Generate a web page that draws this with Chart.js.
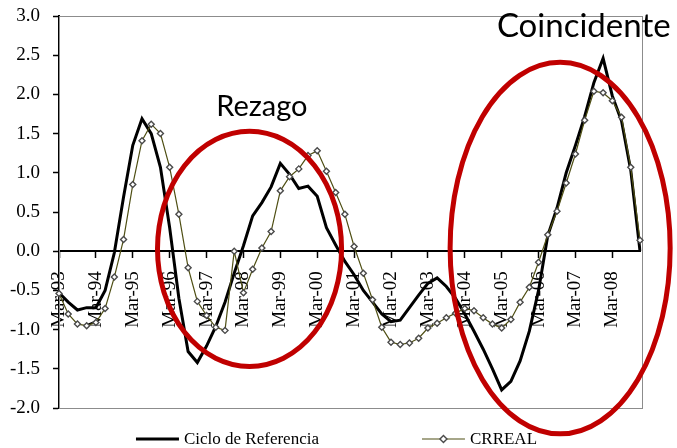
<!DOCTYPE html>
<html>
<head>
<meta charset="utf-8">
<script src="https://cdn.jsdelivr.net/npm/chart.js@4/dist/chart.umd.min.js"></script>
<style>
  html, body { margin: 0; padding: 0; background: #fff; }
  #wrap { width: 677px; height: 448px; }
</style>
</head>
<body>
<div id="wrap"><canvas id="cicloChart" width="677" height="448"></canvas></div>
<script>
// quarterly data, Mar-93 .. Dec-08
const years = ['93', '94', '95', '96', '97', '98', '99', '00', '01', '02', '03', '04', '05', '06', '07', '08'];
const months = ['Mar', 'Jun', 'Sep', 'Dec'];

const cicloReferencia = [
  -0.53, -0.65, -0.75, -0.72, -0.72, -0.50, -0.02, 0.69,
  1.35, 1.69, 1.50, 1.07, 0.30, -0.60, -1.28, -1.42,
  -1.21, -0.96, -0.65, -0.28, 0.07, 0.45, 0.62, 0.82,
  1.12, 0.98, 0.80, 0.83, 0.70, 0.30, 0.08, -0.13,
  -0.30, -0.50, -0.65, -0.80, -0.90, -0.88, -0.72, -0.56,
  -0.41, -0.34, -0.45, -0.60, -0.80, -1.02, -1.25, -1.50,
  -1.77, -1.66, -1.40, -1.02, -0.50, 0.20, 0.55, 1.00,
  1.35, 1.72, 2.15, 2.46, 1.98, 1.66, 1.03, 0.00
];

const crreal = [
  -0.54, -0.80, -0.93, -0.95, -0.91, -0.73, -0.33, 0.15,
  0.85, 1.41, 1.62, 1.50, 1.07, 0.47, -0.21, -0.64,
  -0.82, -0.97, -1.01, 0.00, -0.53, -0.23, 0.04, 0.25,
  0.77, 0.95, 1.05, 1.22, 1.28, 1.02, 0.75, 0.47,
  0.06, -0.28, -0.62, -0.97, -1.16, -1.19, -1.17, -1.11,
  -0.98, -0.92, -0.85, -0.79, -0.73, -0.76, -0.85, -0.93,
  -0.98, -0.87, -0.65, -0.46, -0.14, 0.21, 0.51, 0.87,
  1.24, 1.67, 2.04, 2.02, 1.92, 1.71, 1.07, 0.14
];

const labels = [];
years.forEach(y => months.forEach(m => labels.push(m + '-' + y)));

// red circles and their captions, in (category index, value) units
const ellipses = [
  { cx: 20.66, cy: 0.03, rx: 9.98, ry: 1.50 },
  { cx: 54.34, cy: 0.04, rx: 11.93, ry: 2.37 }
];
const notes = [
  { text: 'Rezago', x: 22.0, y: 1.72, size: 29 },
  { text: 'Coincidente', x: 56.9, y: 2.73, size: 33 }
];

const serif = '"Liberation Serif", "Times New Roman", serif';

const framePlugin = {
  id: 'frame',
  beforeDatasetsDraw(chart) {
    const a = chart.chartArea;
    const ctx = chart.ctx;
    ctx.save();
    ctx.strokeStyle = '#8c8c8c';
    ctx.lineWidth = 1;
    ctx.strokeRect(a.left + 0.5, a.top + 0.5, a.right - a.left + 2, a.bottom - a.top);
    ctx.restore();
  }
};

const notesPlugin = {
  id: 'notes',
  afterDraw(chart) {
    const ctx = chart.ctx;
    const xs = chart.scales.x, ys = chart.scales.y;
    ctx.save();
    ctx.strokeStyle = '#c00000';
    ctx.lineWidth = 5;
    ellipses.forEach(e => {
      const cx = xs.getPixelForValue(e.cx);
      const cy = ys.getPixelForValue(e.cy);
      const rx = xs.getPixelForValue(e.cx + e.rx) - cx;
      const ry = cy - ys.getPixelForValue(e.cy + e.ry);
      ctx.beginPath();
      ctx.ellipse(cx, cy, rx, ry, 0, 0, Math.PI * 2);
      ctx.stroke();
    });
    ctx.fillStyle = '#000';
    ctx.textAlign = 'center';
    ctx.textBaseline = 'alphabetic';
    notes.forEach(n => {
      ctx.font = n.size + 'px Lato, "Open Sans", sans-serif';
      ctx.fillText(n.text, xs.getPixelForValue(n.x), ys.getPixelForValue(n.y));
    });
    ctx.restore();
  }
};

// legend drawn by hand: line + marker like the office chart
const legendPlugin = {
  id: 'bottomLegend',
  afterDraw(chart) {
    const ctx = chart.ctx;
    const sets = chart.data.datasets;
    const lineLen = 43, gap = 5, itemGap = 103;
    const y = 439;
    ctx.save();
    ctx.font = '17px ' + serif;
    const widths = sets.map(d => lineLen + gap + ctx.measureText(d.label).width);
    const total = widths.reduce((a, b) => a + b, 0) + itemGap * (sets.length - 1);
    let x = (chart.width - total) / 2 - 2;
    sets.forEach((d, i) => {
      ctx.strokeStyle = d.borderColor;
      ctx.lineWidth = d.borderWidth;
      ctx.beginPath();
      ctx.moveTo(x, y);
      ctx.lineTo(x + lineLen, y);
      ctx.stroke();
      if (d.pointRadius > 0) {
        const r = d.pointRadius + 0.5;
        const mx = x + lineLen / 2;
        ctx.beginPath();
        ctx.moveTo(mx, y - r);
        ctx.lineTo(mx + r, y);
        ctx.lineTo(mx, y + r);
        ctx.lineTo(mx - r, y);
        ctx.closePath();
        ctx.fillStyle = d.pointBackgroundColor;
        ctx.fill();
        ctx.strokeStyle = d.pointBorderColor;
        ctx.lineWidth = d.pointBorderWidth;
        ctx.stroke();
      }
      ctx.fillStyle = '#000';
      ctx.textAlign = 'left';
      ctx.textBaseline = 'middle';
      ctx.fillText(d.label, x + lineLen + gap, y + 1);
      x += widths[i] + itemGap;
    });
    ctx.restore();
  }
};

const ctx = document.getElementById('cicloChart').getContext('2d');
const cicloChart = new Chart(ctx, {
  type: 'line',
  data: {
    labels: labels,
    datasets: [
      {
        label: 'Ciclo de Referencia',
        data: cicloReferencia,
        borderColor: '#000000',
        borderWidth: 3,
        pointRadius: 0,
        fill: false,
        tension: 0,
        order: 1
      },
      {
        label: 'CRREAL',
        data: crreal,
        borderColor: '#4f4f14',
        borderWidth: 1.2,
        pointStyle: 'rectRot',
        pointRadius: 3,
        pointBackgroundColor: '#ffffff',
        pointBorderColor: '#4a4a4a',
        pointBorderWidth: 1.4,
        fill: false,
        tension: 0,
        order: 0
      }
    ]
  },
  options: {
    responsive: false,
    animation: false,
    devicePixelRatio: 1,
    layout: { padding: { left: 0, top: 16, right: 37, bottom: 40 } },
    plugins: {
      legend: { display: false },
      tooltip: { enabled: false }
    },
    scales: {
      x: {
        type: 'category',
        position: { y: 0 },
        offset: false,
        border: { color: '#000', width: 2 },
        grid: { drawOnChartArea: false, drawTicks: true, tickLength: 6, tickColor: '#000', tickWidth: 1.5 },
        ticks: {
          autoSkip: false,
          minRotation: 90,
          maxRotation: 90,
          padding: 14,
          color: '#000',
          font: { family: serif, size: 19 },
          callback: function (val, index) {
            return index % 4 === 0 ? this.getLabelForValue(val) : null;
          }
        }
      },
      y: {
        min: -2,
        max: 3,
        border: { color: '#000', width: 2 },
        grid: { drawOnChartArea: false, drawTicks: true, tickLength: 6, tickColor: '#000', tickWidth: 1.5 },
        ticks: {
          stepSize: 0.5,
          padding: 13,
          color: '#000',
          // small lineHeight keeps the top label from pushing the plot down
          font: { family: serif, size: 19, lineHeight: 0.3 },
          callback: v => v.toFixed(1)
        },
        afterFit: scale => { scale.width = 59; }
      }
    }
  },
  plugins: [framePlugin, notesPlugin, legendPlugin]
});
</script>
</body>
</html>
